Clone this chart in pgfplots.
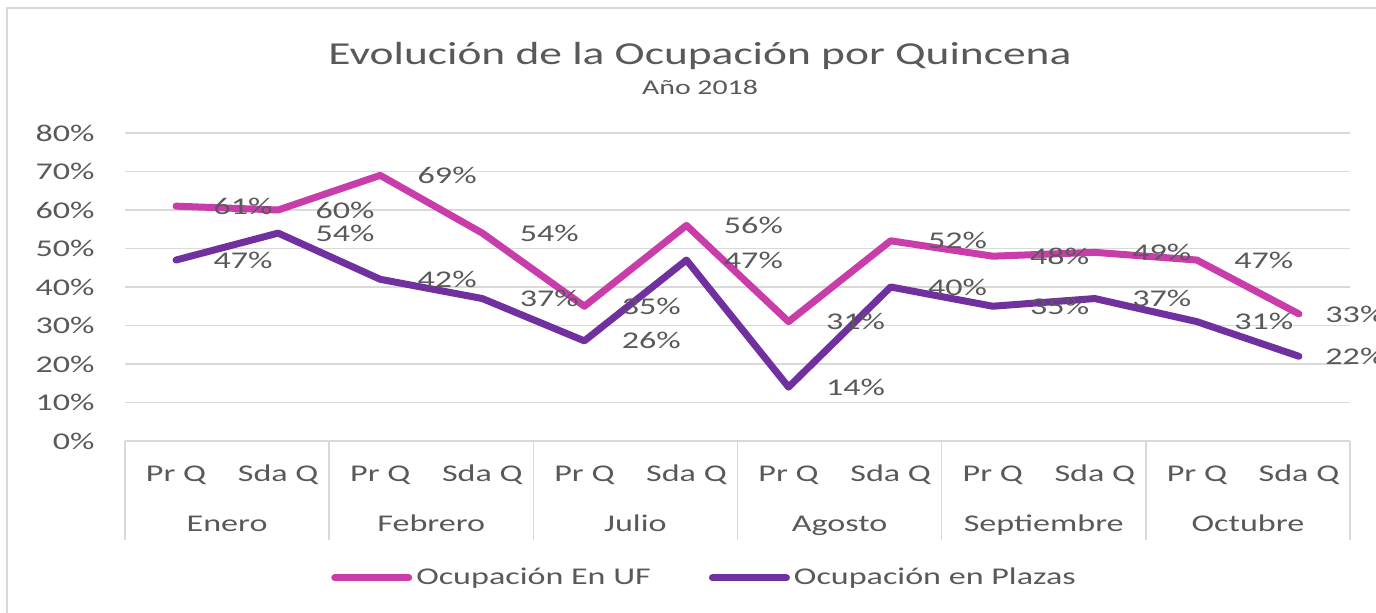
\documentclass[border=0pt]{standalone}
\usepackage{pgfplots}
\pgfplotsset{compat=1.18}
\usepackage{pgfplotstable}
\usepackage{fontspec}
\setmainfont{Carlito}[FakeStretch=1.42]
\definecolor{txt}{HTML}{595959}
\definecolor{grd}{HTML}{D9D9D9}
\definecolor{uf}{HTML}{C83DAA}
\definecolor{pl}{HTML}{7030A0}
\pgfplotstableread{
x uf pl
0 61 47
1 60 54
2 69 42
3 54 37
4 35 26
5 56 47
6 31 14
7 52 40
8 48 35
9 49 37
10 47 31
11 33 22
}\data
\newcommand{\lbl}{\fontsize{12}{14}\selectfont}
\begin{document}
\begin{tikzpicture}
\useasboundingbox (0,0) rectangle (688pt,306.5pt);
\draw[grd, line width=1.2pt] (3.5pt,0) -- (3.5pt,302.5pt) -- (688pt,302.5pt);
\node[txt, font=\fontsize{16}{19}\selectfont] at (350pt,278.5pt) {Evolución de la Ocupación por Quincena};
\node[txt, font=\fontsize{10.5}{12}\selectfont] at (350pt,263pt) {Año 2018};
\begin{axis}[at={(62.5pt,86pt)}, anchor=south west, scale only axis,
  width=612.5pt, height=154pt,
  xmin=-0.5, xmax=11.5, ymin=0, ymax=80,
  ytick={0,10,20,30,40,50,60,70,80},
  yticklabels={0\%,10\%,20\%,30\%,40\%,50\%,60\%,70\%,80\%},
  xtick={0,1,2,3,4,5,6,7,8,9,10,11},
  xticklabels={Pr Q,Sda Q,Pr Q,Sda Q,Pr Q,Sda Q,Pr Q,Sda Q,Pr Q,Sda Q,Pr Q,Sda Q},
  major tick length=0pt,
  ymajorgrids, grid style={grd, line width=0.75pt},
  axis x line*=bottom, axis y line*=left,
  x axis line style={grd, line width=0.75pt, -},
  y axis line style={draw=none},
  tick label style={txt, font=\lbl},
  yticklabel style={anchor=east, inner sep=0pt, xshift=-15pt},
  xticklabel style={anchor=base, inner sep=0pt, yshift=-20.5pt},
  clip=false,
  legend columns=2,
  legend style={draw=none, fill=none, at={(0.5,0)}, anchor=center,
    yshift=-68.5pt, xshift=-16pt, font=\lbl, text=txt,
    /tikz/every even column/.append style={column sep=27pt}},
  legend image code/.code={\draw[#1, line width=3.5pt, line cap=round] (0pt,0pt) -- (37pt,0pt);},
  nodes near coords={\pgfplotspointmeta\%},
  point meta=explicit symbolic,
  nodes near coords style={anchor=west, inner sep=0pt, xshift=17pt, text=txt, font=\lbl},
  coordinate style/.condition={\coordindex==11}{xshift=-5.5pt},
]
\addplot[uf, line width=3.5pt, line join=round, line cap=round] table[x=x, y=uf, meta=uf] {\data};
\addlegendentry{Ocupación En UF}
\addplot[pl, line width=3.5pt, line join=round, line cap=round] table[x=x, y=pl, meta=pl] {\data};
\addlegendentry{Ocupación en Plazas}
\draw[grd, line width=0.75pt] (axis cs:-0.5,0) -- ([yshift=-49.5pt]axis cs:-0.5,0);
\draw[grd, line width=0.75pt] (axis cs:1.5,0) -- ([yshift=-49.5pt]axis cs:1.5,0);
\draw[grd, line width=0.75pt] (axis cs:3.5,0) -- ([yshift=-49.5pt]axis cs:3.5,0);
\draw[grd, line width=0.75pt] (axis cs:5.5,0) -- ([yshift=-49.5pt]axis cs:5.5,0);
\draw[grd, line width=0.75pt] (axis cs:7.5,0) -- ([yshift=-49.5pt]axis cs:7.5,0);
\draw[grd, line width=0.75pt] (axis cs:9.5,0) -- ([yshift=-49.5pt]axis cs:9.5,0);
\draw[grd, line width=0.75pt] (axis cs:11.5,0) -- ([yshift=-49.5pt]axis cs:11.5,0);
\node[txt, font=\lbl, anchor=base] at (axis cs:0.5,0) [yshift=-45.5pt] {Enero};
\node[txt, font=\lbl, anchor=base] at (axis cs:2.5,0) [yshift=-45.5pt] {Febrero};
\node[txt, font=\lbl, anchor=base] at (axis cs:4.5,0) [yshift=-45.5pt] {Julio};
\node[txt, font=\lbl, anchor=base] at (axis cs:6.5,0) [yshift=-45.5pt] {Agosto};
\node[txt, font=\lbl, anchor=base] at (axis cs:8.5,0) [yshift=-45.5pt] {Septiembre};
\node[txt, font=\lbl, anchor=base] at (axis cs:10.5,0) [yshift=-45.5pt] {Octubre};
\end{axis}
\end{tikzpicture}
\end{document}
